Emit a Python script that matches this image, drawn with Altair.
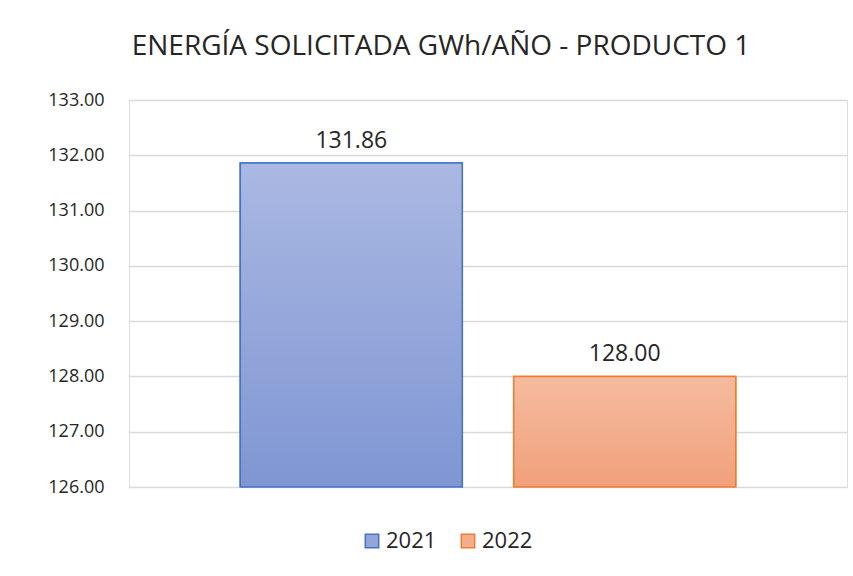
import altair as alt
import pandas as pd

years = ["2021", "2022"]
values = [131.86, 128.00]
mid_colors = ["#93a6da", "#f3ad8a"]
stroke_colors = ["#4472c4", "#ed7d31"]
title_text = "ENERGÍA SOLICITADA GWh/AÑO - PRODUCTO 1"

df = pd.DataFrame({"year": years, "value": values})

FONT = "Open Sans, sans-serif"

xenc = alt.X("year:N", axis=None,
             scale=alt.Scale(domain=years, paddingInner=0.188, paddingOuter=0.407))
yenc = alt.Y("value:Q",
             scale=alt.Scale(domain=[126, 133], nice=False, zero=False),
             axis=alt.Axis(values=[126, 127, 128, 129, 130, 131, 132, 133], format=".2f",
                           title=None, domain=False, ticks=False, labelPadding=25,
                           labelFontSize=18, labelFont=FONT, labelColor="#262626",
                           gridColor="#d9d9d9", gridWidth=1.5))

base = alt.Chart(df)

legend_bars = base.mark_bar(strokeWidth=1.5, clip=True).encode(
    x=xenc, y=yenc, y2=alt.datum(126),
    fill=alt.Fill("year:N", scale=alt.Scale(domain=years, range=mid_colors),
                  legend=alt.Legend(title=None, orient="none", direction="horizontal",
                                    legendX=232, legendY=430, symbolType="square",
                                    symbolSize=180, symbolStrokeWidth=1.5,
                                    labelFontSize=22, labelFont=FONT, labelColor="#262626",
                                    columnPadding=20, labelOffset=3)),
    stroke=alt.Stroke("year:N", scale=alt.Scale(domain=years, range=stroke_colors),
                      legend=None),
)

layers = [legend_bars]
tops = [["#aab8e2", "#7f96d3"], ["#f5bb9f", "#f1a07a"]]
for yr, (c1, c2), sc in zip(years, tops, stroke_colors):
    grad = alt.Gradient(gradient="linear", x1=0, y1=0, x2=0, y2=1,
                        stops=[alt.GradientStop(color=c1, offset=0),
                               alt.GradientStop(color=c2, offset=1)])
    layers.append(
        base.transform_filter(alt.datum.year == yr).mark_bar(
            fill=grad, stroke=sc, strokeWidth=1.5).encode(
            x=xenc, y=yenc, y2=alt.datum(126))
    )

labels = base.mark_text(baseline="bottom", dy=-10, fontSize=23, font=FONT,
                        color="#262626").encode(
    x=xenc, y=yenc, text=alt.Text("value:Q", format=".2f"))
layers.append(labels)

chart = alt.layer(*layers).properties(
    width=718, height=387,
    autosize=alt.AutoSizeParams(type="none"),
    padding={"left": 129, "top": 100, "right": 6, "bottom": 89},
    title=alt.TitleParams(title_text, fontSize=28, font=FONT, fontWeight="normal",
                          color="#262626", anchor="middle", dx=-47, offset=30),
).configure_view(stroke=None).configure(background="white")

chart.save("out.html", embed_options={"renderer": "svg", "actions": False})
